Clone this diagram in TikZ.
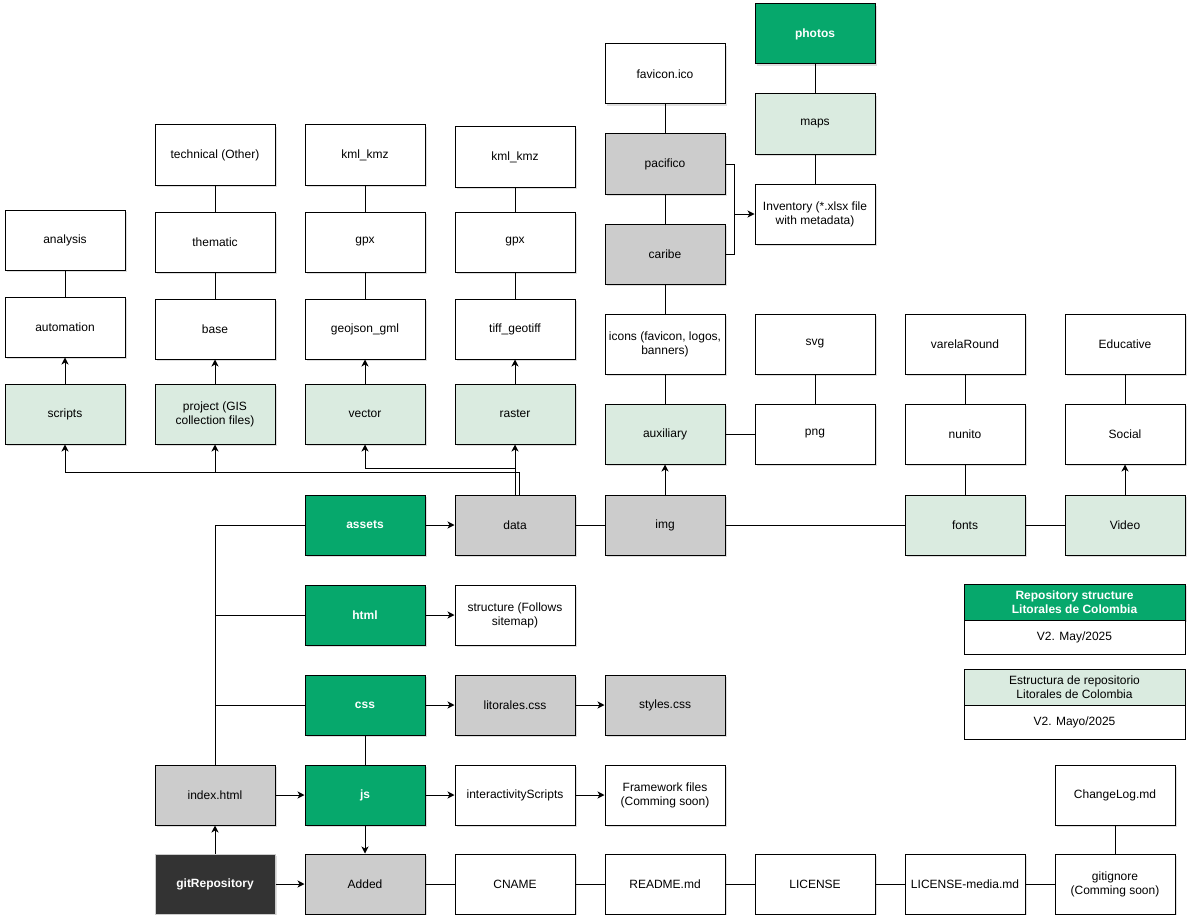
\documentclass[tikz,border=0pt]{standalone}
\usepackage{fontspec}
\setmainfont{Liberation Sans}
\usetikzlibrary{arrows.meta,shadows}
\definecolor{dgreen}{RGB}{6,168,108}
\definecolor{lgreen}{RGB}{218,235,224}
\definecolor{lgray}{RGB}{204,204,204}
\definecolor{dark}{RGB}{51,51,51}
\tikzset{
  box/.style={draw=black,line width=1pt,fill=white,minimum width=120pt,minimum height=60pt,inner sep=0pt,align=center,
    font=\fontsize{12}{14}\selectfont,
    drop shadow={shadow xshift=2pt,shadow yshift=-2pt,opacity=0.25,fill=gray}},
  lg/.style={box,fill=lgreen},
  gr/.style={box,fill=lgray},
  gg/.style={box,fill=dgreen,text=white,font=\fontsize{12}{14}\selectfont\bfseries},
  dk/.style={box,fill=dark,draw=lgray,text=white,font=\fontsize{12}{14}\selectfont\bfseries},
  ln/.style={line width=1pt,draw=black},
  arr/.style={ln,-{Stealth[length=7pt,width=7pt,inset=2pt]}},
  legh/.style={draw=black,line width=1pt,minimum width=221pt,minimum height=36pt,inner sep=0pt,align=center,font=\fontsize{12}{14}\selectfont},
  legb/.style={draw=black,line width=1pt,fill=white,minimum width=221pt,minimum height=34pt,inner sep=0pt,align=center,font=\fontsize{12}{14}\selectfont}
}
\begin{document}
\begin{tikzpicture}[x=1pt,y=-1pt]
\useasboundingbox[fill=white] (0,0) rectangle (1191,915);
% column 1
\node[box] (analysis) at (65,240) {analysis};
\node[box] (automation) at (65,327) {automation};
\node[lg] (scripts) at (65,414) {scripts};
% column 2
\node[box] (technical) at (215,155) {technical (Other)};
\node[box] (thematic) at (215,242) {thematic};
\node[box] (base) at (215,329) {base};
\node[lg] (project) at (215,414) {project (GIS\\collection files)};
% column 3
\node[box] (kmlA) at (365,155) {kml\_kmz};
\node[box] (gpxA) at (365,242) {gpx};
\node[box] (geojson) at (365,329) {geojson\_gml};
\node[lg] (vector) at (365,414) {vector};
% column 4
\node[box] (kmlB) at (515,157) {kml\_kmz};
\node[box] (gpxB) at (515,242) {gpx};
\node[box] (tiff) at (515,329) {tiff\_geotiff};
\node[lg] (raster) at (515,414) {raster};
% upper right
\node[gg] (photos) at (815,34) {photos};
\node[box] (favicon) at (665,74) {favicon.ico};
\node[lg] (maps) at (815,124) {maps};
\node[gr] (pacifico) at (665,164) {pacifico};
\node[box] (inventory) at (815,214) {Inventory (*.xlsx file\\with metadata)};
\node[gr] (caribe) at (665,254) {caribe};
\node[box] (icons) at (665,344) {icons (favicon, logos,\\banners)};
\node[box] (svg) at (815,344) {svg};
\node[box] (varela) at (965,344) {varelaRound};
\node[box] (educative) at (1125,344) {Educative};
\node[lg] (auxiliary) at (665,434) {auxiliary};
\node[box] (png) at (815,434) {png};
\node[box] (nunito) at (965,434) {nunito};
\node[box] (social) at (1125,434) {Social};
% middle row
\node[gg] (assets) at (365,525) {assets};
\node[gr] (data) at (515,525) {data};
\node[gr] (img) at (665,525) {img};
\node[lg] (fonts) at (965,525) {fonts};
\node[lg] (video) at (1125,525) {Video};
% lower rows
\node[gg] (html) at (365,615) {html};
\node[box] (structure) at (515,615) {structure (Follows\\sitemap)};
\node[gg] (css) at (365,705) {css};
\node[gr] (litorales) at (515,705) {litorales.css};
\node[gr] (styles) at (665,705) {styles.css};
\node[gr] (index) at (215,795) {index.html};
\node[gg] (js) at (365,795) {js};
\node[box] (interact) at (515,795) {interactivityScripts};
\node[box] (framework) at (665,795) {Framework files\\(Comming soon)};
\node[box] (changelog) at (1115,795) {ChangeLog.md};
\node[dk] (git) at (215,884) {gitRepository};
\node[gr] (added) at (365,884) {Added};
\node[box] (cname) at (515,884) {CNAME};
\node[box] (readme) at (665,884) {README.md};
\node[box] (license) at (815,884) {LICENSE};
\node[box] (licmedia) at (965,884) {LICENSE-media.md};
\node[box] (gitignore) at (1115,884) {gitignore\\(Comming soon)};
% legend
\node[legh,fill=dgreen,text=white,font=\fontsize{12}{14}\selectfont\bfseries,drop shadow={shadow xshift=2pt,shadow yshift=-2pt,opacity=0.25,fill=gray}] (legAh) at (1074.5,602) {Repository structure\\Litorales de Colombia};
\node[legb] (legAb) at (1074.5,637) {V2. May/2025};
\node[legh,fill=lgreen] (legBh) at (1074.5,687) {Estructura de repositorio\\Litorales de Colombia};
\node[legb] (legBb) at (1074.5,722) {V2. Mayo/2025};
% connectors - left columns
\draw[ln] (analysis) -- (automation);
\draw[arr] (scripts) -- (automation);
\draw[ln] (technical) -- (thematic);
\draw[ln] (thematic) -- (base);
\draw[arr] (project) -- (base);
\draw[ln] (kmlA) -- (gpxA);
\draw[ln] (gpxA) -- (geojson);
\draw[arr] (vector) -- (geojson);
\draw[ln] (kmlB) -- (gpxB);
\draw[ln] (gpxB) -- (tiff);
\draw[arr] (raster) -- (tiff);
% data fan-out
\draw[arr] (data.north) -- (raster.south);
\draw[arr] (data.north) -- ++(0,-26) -| (vector.south);
\draw[arr] ([xshift=4pt]data.north) -- ++(0,-22) -| (project.south);
\draw[arr] ([xshift=4pt]data.north) -- ++(0,-22) -| (scripts.south);
% upper right
\draw[ln] (photos) -- (maps);
\draw[ln] (maps) -- (inventory);
\draw[ln] (favicon) -- (pacifico);
\draw[ln] (pacifico) -- (caribe);
\draw[ln] (caribe) -- (icons);
\draw[ln] (icons) -- (auxiliary);
\coordinate (junc) at (734,214);
\draw[ln] (pacifico.east) -| (junc);
\draw[ln] (caribe.east) -| (junc);
\draw[arr] (junc) -- (inventory.west);
\draw[ln] (auxiliary) -- (png);
\draw[ln] (png) -- (svg);
\draw[arr] (img) -- (auxiliary);
\draw[ln] (varela) -- (nunito);
\draw[ln] (nunito) -- (fonts);
\draw[ln] (educative) -- (social);
\draw[arr] (video) -- (social);
% middle row
\draw[arr] (assets) -- (data);
\draw[ln] (data) -- (img);
\draw[ln] (img) -- (fonts);
\draw[ln] (fonts) -- (video);
% index tree
\draw[ln] (index.north) |- (assets.west);
\draw[ln] (index.north) |- (html.west);
\draw[ln] (index.north) |- (css.west);
\draw[arr] (html) -- (structure);
\draw[arr] (css) -- (litorales);
\draw[arr] (litorales) -- (styles);
\draw[ln] (css) -- (js);
\draw[arr] (index) -- (js);
\draw[arr] (js) -- (interact);
\draw[arr] (interact) -- (framework);
\draw[arr] (js) -- (added);
\draw[arr] (git) -- (index);
\draw[arr] (git) -- (added);
% bottom row
\draw[ln] (added) -- (cname);
\draw[ln] (cname) -- (readme);
\draw[ln] (readme) -- (license);
\draw[ln] (license) -- (licmedia);
\draw[ln] (licmedia) -- (gitignore);
\draw[ln] (gitignore) -- (changelog);
\end{tikzpicture}
\end{document}
